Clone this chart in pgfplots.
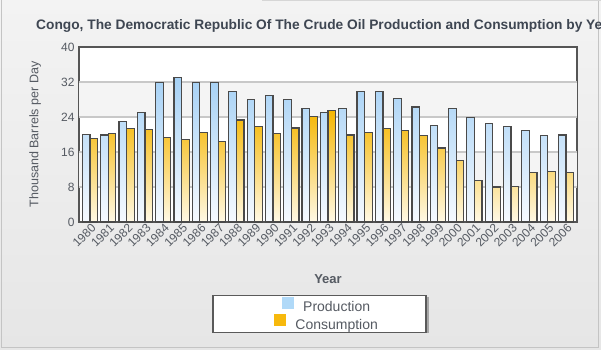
\documentclass[border=0pt]{standalone}
\usepackage{fontspec}
\setmainfont{Liberation Sans}
\usepackage{pgfplots}
\pgfplotsset{compat=1.18}
\definecolor{bgtop}{HTML}{F3F3F3}
\definecolor{bgbot}{HTML}{E6E6E6}
\definecolor{framecol}{HTML}{C4C4C4}
\definecolor{titlecol}{HTML}{3E4652}
\definecolor{labcol}{HTML}{555A62}
\definecolor{axcol}{HTML}{555555}
\definecolor{gridcol}{HTML}{C8C8C8}
\definecolor{bandcol}{HTML}{F4F4F4}
\definecolor{bardraw}{HTML}{4A4A4A}
\definecolor{prodtop}{HTML}{A6D1F5}
\definecolor{prodbot}{HTML}{F6FAFF}
\definecolor{constop}{HTML}{F5B602}
\definecolor{consbot}{HTML}{FFF9E6}
\definecolor{prodleg}{HTML}{B0D9F8}
\definecolor{consleg}{HTML}{F7B90C}
\definecolor{legcol}{HTML}{5A5A5A}

\pgfplotstableread{
x prod cons
0 20.0 19.0
1 19.9 20.3
2 22.9 21.3
3 25.0 21.2
4 31.9 19.4
5 33.0 18.8
6 31.9 20.5
7 31.9 18.4
8 29.9 23.3
9 28.0 21.9
10 29.0 20.3
11 28.0 21.5
12 25.9 24.2
13 25.0 25.4
14 25.9 19.9
15 29.9 20.5
16 29.9 21.3
17 28.3 20.9
18 26.3 19.7
19 22.1 16.9
20 25.9 14.1
21 23.9 9.4
22 22.6 8.0
23 21.9 8.2
24 21.0 11.3
25 19.7 11.5
26 19.9 11.4
}\datatable

\begin{document}
\begin{tikzpicture}
\useasboundingbox (0pt,0pt) rectangle (601pt,349pt);
\clip (0pt,0pt) rectangle (601pt,349pt);
\shade[top color=bgtop, bottom color=bgbot] (0pt,0pt) rectangle (601pt,349pt);
\draw[framecol, line width=1.5pt] (1.5pt,349pt) -- (1.5pt,1.5pt) -- (598.5pt,1.5pt) -- (598.5pt,349pt);
\draw[framecol!70, line width=1pt] (262pt,348.5pt) -- (601pt,348.5pt);
% legend drop shadow
\fill[black, opacity=0.28] (215.5pt,16pt) rectangle (428.5pt,52pt);
\node[anchor=west, inner sep=0pt, text=titlecol, font=\fontsize{13.75}{16}\selectfont\bfseries] at (36pt,323pt)
  {Congo, The Democratic Republic Of The Crude Oil Production and Consumption by Year};
\begin{axis}[
  at={(79pt,127pt)}, anchor=south west,
  width=498pt, height=175pt, scale only axis,
  axis background/.style={fill=white},
  xmin=-0.6, xmax=26.6, ymin=0, ymax=40,
  ytick={0,8,...,40},
  xtick={0,...,26},
  xticklabels={1980,1981,1982,1983,1984,1985,1986,1987,1988,1989,1990,1991,1992,1993,1994,1995,1996,1997,1998,1999,2000,2001,2002,2003,2004,2005,2006},
  ybar, bar width=7.6pt,
  axis line style={draw=axcol, line width=2pt},
  major tick length=0pt,
  tick label style={text=labcol, font=\fontsize{12}{14}\selectfont},
  yticklabel style={xshift=-1pt},
  xticklabel style={rotate=45, anchor=north east, inner sep=1pt, xshift=1pt},
  /pgf/number format/assume math mode=true,
  xlabel={\bfseries Year},
  xlabel style={at={(axis description cs:0.5,-0.326)}, anchor=center, text=labcol, font=\fontsize{13}{15}\selectfont},
  ylabel={Thousand Barrels per Day},
  ylabel style={at={(axis description cs:-0.088,0.5)}, anchor=center, text=labcol, font=\fontsize{12.5}{15}\selectfont},
  legend style={at={(0.483,-0.417)}, anchor=north, draw=legcol, line width=1.2pt, fill=white,
    minimum width=213pt, minimum height=36pt, inner sep=1pt, row sep=0pt,
    nodes={minimum width=0pt, minimum height=0pt, inner sep=1.2pt},
    font=\fontsize{14}{16}\selectfont, text=labcol},
  legend cell align=center,
]
\fill[bandcol] (axis cs:-0.6,8) rectangle (axis cs:26.6,16);
\fill[bandcol] (axis cs:-0.6,24) rectangle (axis cs:26.6,32);
\draw[gridcol, line width=1.2pt] (axis cs:-0.6,8) -- (axis cs:26.6,8);
\draw[gridcol, line width=1.2pt] (axis cs:-0.6,16) -- (axis cs:26.6,16);
\draw[gridcol, line width=1.2pt] (axis cs:-0.6,24) -- (axis cs:26.6,24);
\draw[gridcol, line width=1.2pt] (axis cs:-0.6,32) -- (axis cs:26.6,32);
\addplot[draw=bardraw, line width=1.2pt, top color=prodtop, bottom color=prodbot, forget plot, bar shift=-3.8pt]
  table[x=x, y=prod] {\datatable};
\addplot[draw=bardraw, line width=1.2pt, top color=constop, bottom color=consbot, forget plot, bar shift=3.8pt]
  table[x=x, y=cons] {\datatable};
\addlegendimage{legend image code/.code={\path (0pt,0pt); \fill[prodleg] (22pt,-1pt) rectangle (33pt,10pt);}}
\addlegendentry{Production}
\addlegendimage{legend image code/.code={\path (0pt,0pt); \fill[consleg] (14pt,-1pt) rectangle (25pt,10pt);}}
\addlegendentry{Consumption}
\end{axis}
\end{tikzpicture}
\end{document}
